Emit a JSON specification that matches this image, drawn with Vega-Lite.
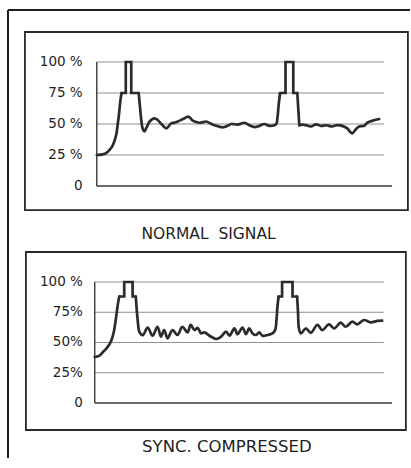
{
  "$schema": "https://vega.github.io/schema/vega-lite/v6.json",
  "width": 411,
  "height": 468,
  "autosize": {"type": "fit", "contains": "padding"},
  "padding": 0,
  "background": "#ffffff",
  "config": {"view": {"stroke": null}, "text": {"font": "DejaVu Sans", "color": "#1e1e1e"}},
  "datasets": {
    "top_box": [{"t": -25, "t2": 108.3, "v": -19.4, "v2": 124.2}],
    "top_frame": [
      {"t": -30.9, "t2": -30.9, "v": -219.4, "v2": 141.9},
      {"t": -30.9, "t2": 109.03, "v": 141.9, "v2": 141.9}
    ],
    "top_grid": [
      {"t": 0, "t2": 100, "v": 25, "v2": 25},
      {"t": 0, "t2": 100, "v": 50, "v2": 50},
      {"t": 0, "t2": 100, "v": 75, "v2": 75},
      {"t": 0, "t2": 100, "v": 100, "v2": 100}
    ],
    "top_axes": [
      {"t": 0, "t2": 0, "v": 0, "v2": 100},
      {"t": 0, "t2": 102.8, "v": 0, "v2": 0}
    ],
    "top_labels": [
      {"t": -4.9, "v": 100, "label": "100 %"},
      {"t": -4.9, "v": 75, "label": "75 %"},
      {"t": -4.9, "v": 50, "label": "50 %"},
      {"t": -4.9, "v": 25, "label": "25 %"},
      {"t": -4.9, "v": 0, "label": "0"}
    ],
    "top_title": [{"t": 38.9, "v": -38.7, "label": "NORMAL \u00a0SIGNAL"}],
    "top_wave": [
      {"seg": "video0", "t": 0, "v": 25}, {"seg": "video0", "t": 2, "v": 25.5}, {"seg": "video0", "t": 3.5, "v": 27},
      {"seg": "video0", "t": 4.6, "v": 29.5}, {"seg": "video0", "t": 5.6, "v": 33}, {"seg": "video0", "t": 6.4, "v": 38},
      {"seg": "video0", "t": 6.9, "v": 43}, {"seg": "video0", "t": 7.3, "v": 50}, {"seg": "video0", "t": 7.7, "v": 57},
      {"seg": "video0", "t": 8.0, "v": 64}, {"seg": "video0", "t": 8.3, "v": 70}, {"seg": "video0", "t": 8.6, "v": 75},
      {"seg": "sync1", "t": 8.6, "v": 75}, {"seg": "sync1", "t": 10.1, "v": 75}, {"seg": "sync1", "t": 10.1, "v": 100},
      {"seg": "sync1", "t": 12.0, "v": 100}, {"seg": "sync1", "t": 12.0, "v": 75}, {"seg": "sync1", "t": 14.6, "v": 75},
      {"seg": "video1", "t": 14.6, "v": 75}, {"seg": "video1", "t": 15.0, "v": 65}, {"seg": "video1", "t": 15.5, "v": 53},
      {"seg": "video1", "t": 16.0, "v": 46}, {"seg": "video1", "t": 16.6, "v": 44}, {"seg": "video1", "t": 17.3, "v": 47},
      {"seg": "video1", "t": 18.4, "v": 52}, {"seg": "video1", "t": 20.1, "v": 54.6}, {"seg": "video1", "t": 21.3, "v": 53},
      {"seg": "video1", "t": 22.5, "v": 50}, {"seg": "video1", "t": 24.2, "v": 46.5}, {"seg": "video1", "t": 25.9, "v": 50.5},
      {"seg": "video1", "t": 27.0, "v": 51}, {"seg": "video1", "t": 28.2, "v": 52}, {"seg": "video1", "t": 30.0, "v": 54},
      {"seg": "video1", "t": 31.7, "v": 55.9}, {"seg": "video1", "t": 32.5, "v": 55}, {"seg": "video1", "t": 33.4, "v": 52.7},
      {"seg": "video1", "t": 35.8, "v": 51}, {"seg": "video1", "t": 38.1, "v": 52}, {"seg": "video1", "t": 39.5, "v": 50.5},
      {"seg": "video1", "t": 41.0, "v": 49}, {"seg": "video1", "t": 43.9, "v": 47.3}, {"seg": "video1", "t": 45.5, "v": 48.5},
      {"seg": "video1", "t": 46.8, "v": 50}, {"seg": "video1", "t": 49.0, "v": 49.5}, {"seg": "video1", "t": 51.4, "v": 51},
      {"seg": "video1", "t": 53.1, "v": 49}, {"seg": "video1", "t": 54.9, "v": 47.5}, {"seg": "video1", "t": 56.6, "v": 48.5},
      {"seg": "video1", "t": 58.3, "v": 50}, {"seg": "video1", "t": 60.1, "v": 48.5}, {"seg": "video1", "t": 61.8, "v": 49},
      {"seg": "video1", "t": 62.5, "v": 50}, {"seg": "video1", "t": 62.9, "v": 55}, {"seg": "video1", "t": 63.3, "v": 65},
      {"seg": "video1", "t": 63.8, "v": 75},
      {"seg": "sync2", "t": 63.8, "v": 75}, {"seg": "sync2", "t": 65.7, "v": 75}, {"seg": "sync2", "t": 65.7, "v": 100},
      {"seg": "sync2", "t": 68.4, "v": 100}, {"seg": "sync2", "t": 68.4, "v": 75}, {"seg": "sync2", "t": 69.8, "v": 75},
      {"seg": "sync2", "t": 70.2, "v": 60}, {"seg": "sync2", "t": 70.5, "v": 49},
      {"seg": "video2", "t": 70.5, "v": 49}, {"seg": "video2", "t": 71.5, "v": 49.5}, {"seg": "video2", "t": 72.9, "v": 49},
      {"seg": "video2", "t": 74.5, "v": 48}, {"seg": "video2", "t": 76.4, "v": 49.7}, {"seg": "video2", "t": 78.0, "v": 48.5},
      {"seg": "video2", "t": 79.9, "v": 49}, {"seg": "video2", "t": 81.9, "v": 48}, {"seg": "video2", "t": 83.5, "v": 49},
      {"seg": "video2", "t": 85.4, "v": 48.5}, {"seg": "video2", "t": 87.2, "v": 46.5}, {"seg": "video2", "t": 88.1, "v": 44},
      {"seg": "video2", "t": 88.9, "v": 42.5}, {"seg": "video2", "t": 90.3, "v": 46}, {"seg": "video2", "t": 91.3, "v": 48},
      {"seg": "video2", "t": 93.1, "v": 48.5}, {"seg": "video2", "t": 94.1, "v": 51}, {"seg": "video2", "t": 95.8, "v": 52.5},
      {"seg": "video2", "t": 98.3, "v": 54}
    ],
    "bot_box": [{"t": -23.8, "t2": 107.6, "v": -22.3, "v2": 124.8}],
    "bot_grid": [
      {"t": 0, "t2": 100, "v": 25, "v2": 25},
      {"t": 0, "t2": 100, "v": 50, "v2": 50},
      {"t": 0, "t2": 100, "v": 75, "v2": 75},
      {"t": 0, "t2": 100, "v": 100, "v2": 100}
    ],
    "bot_axes": [
      {"t": 0, "t2": 0, "v": 0, "v2": 100},
      {"t": 0, "t2": 102.8, "v": 0, "v2": 0}
    ],
    "bot_labels": [
      {"t": -4.1, "v": 100, "label": "100 %"},
      {"t": -4.1, "v": 75, "label": "75%"},
      {"t": -4.1, "v": 50, "label": "50%"},
      {"t": -4.1, "v": 25, "label": "25%"},
      {"t": -4.1, "v": 0, "label": "0"}
    ],
    "bot_title": [{"t": 45.7, "v": -36.1, "label": "SYNC. COMPRESSED"}],
    "bot_wave": [
      {"seg": "video0", "t": 0, "v": 38}, {"seg": "video0", "t": 1.5, "v": 39}, {"seg": "video0", "t": 2.8, "v": 42},
      {"seg": "video0", "t": 4.0, "v": 45}, {"seg": "video0", "t": 5.1, "v": 48.5}, {"seg": "video0", "t": 5.8, "v": 52},
      {"seg": "video0", "t": 6.2, "v": 55}, {"seg": "video0", "t": 6.7, "v": 60}, {"seg": "video0", "t": 7.1, "v": 66},
      {"seg": "video0", "t": 7.5, "v": 73}, {"seg": "video0", "t": 7.9, "v": 80}, {"seg": "video0", "t": 8.3, "v": 86},
      {"seg": "video0", "t": 8.5, "v": 88},
      {"seg": "sync1", "t": 8.5, "v": 88}, {"seg": "sync1", "t": 10.2, "v": 88}, {"seg": "sync1", "t": 10.2, "v": 100},
      {"seg": "sync1", "t": 13.1, "v": 100}, {"seg": "sync1", "t": 13.1, "v": 88}, {"seg": "sync1", "t": 14.2, "v": 88},
      {"seg": "video1", "t": 14.2, "v": 88}, {"seg": "video1", "t": 14.6, "v": 75}, {"seg": "video1", "t": 15.0, "v": 65},
      {"seg": "video1", "t": 15.4, "v": 59}, {"seg": "video1", "t": 16.6, "v": 56}, {"seg": "video1", "t": 18.3, "v": 62.3},
      {"seg": "video1", "t": 20.0, "v": 55.6}, {"seg": "video1", "t": 21.7, "v": 63}, {"seg": "video1", "t": 22.9, "v": 54.8},
      {"seg": "video1", "t": 24.0, "v": 60.3}, {"seg": "video1", "t": 25.2, "v": 53.4}, {"seg": "video1", "t": 26.9, "v": 60.3},
      {"seg": "video1", "t": 28.6, "v": 56.2}, {"seg": "video1", "t": 30.3, "v": 63}, {"seg": "video1", "t": 32.1, "v": 58.4},
      {"seg": "video1", "t": 33.2, "v": 64.5}, {"seg": "video1", "t": 34.5, "v": 60.3}, {"seg": "video1", "t": 35.6, "v": 62},
      {"seg": "video1", "t": 36.8, "v": 57.5}, {"seg": "video1", "t": 37.9, "v": 58.4}, {"seg": "video1", "t": 39.7, "v": 55.6},
      {"seg": "video1", "t": 42.0, "v": 52.9}, {"seg": "video1", "t": 43.7, "v": 54.8}, {"seg": "video1", "t": 45.4, "v": 59},
      {"seg": "video1", "t": 46.6, "v": 55.6}, {"seg": "video1", "t": 48.3, "v": 61.7}, {"seg": "video1", "t": 49.4, "v": 56.8},
      {"seg": "video1", "t": 51.1, "v": 62.3}, {"seg": "video1", "t": 52.3, "v": 56.8}, {"seg": "video1", "t": 53.4, "v": 61.7},
      {"seg": "video1", "t": 54.6, "v": 57.5}, {"seg": "video1", "t": 55.8, "v": 56.2}, {"seg": "video1", "t": 56.9, "v": 58.4},
      {"seg": "video1", "t": 58.0, "v": 55.6}, {"seg": "video1", "t": 59.8, "v": 56.2}, {"seg": "video1", "t": 61.5, "v": 57.5},
      {"seg": "video1", "t": 62.4, "v": 60.3}, {"seg": "video1", "t": 62.9, "v": 70}, {"seg": "video1", "t": 63.2, "v": 80},
      {"seg": "video1", "t": 63.6, "v": 88},
      {"seg": "sync2", "t": 63.6, "v": 88}, {"seg": "sync2", "t": 64.8, "v": 88}, {"seg": "sync2", "t": 64.8, "v": 100},
      {"seg": "sync2", "t": 68.4, "v": 100}, {"seg": "sync2", "t": 68.4, "v": 88}, {"seg": "sync2", "t": 70.0, "v": 88},
      {"seg": "video2", "t": 70.0, "v": 88}, {"seg": "video2", "t": 70.3, "v": 75}, {"seg": "video2", "t": 70.6, "v": 62},
      {"seg": "video2", "t": 71.3, "v": 57.5}, {"seg": "video2", "t": 73.0, "v": 61.7}, {"seg": "video2", "t": 74.7, "v": 57.9},
      {"seg": "video2", "t": 77.0, "v": 64.5}, {"seg": "video2", "t": 78.7, "v": 60.3}, {"seg": "video2", "t": 81.0, "v": 65},
      {"seg": "video2", "t": 82.8, "v": 61.7}, {"seg": "video2", "t": 85.1, "v": 66.4}, {"seg": "video2", "t": 86.8, "v": 63},
      {"seg": "video2", "t": 89.1, "v": 67.2}, {"seg": "video2", "t": 90.8, "v": 65}, {"seg": "video2", "t": 93.1, "v": 68.6},
      {"seg": "video2", "t": 95.4, "v": 66.7}, {"seg": "video2", "t": 97.7, "v": 67.8}, {"seg": "video2", "t": 99.4, "v": 68}
    ]
  },
  "resolve": {"scale": {"x": "independent", "y": "independent"}},
  "layer": [
    {
      "encoding": {
        "x": {"field": "t", "type": "quantitative", "scale": {"domain": [-33.68, 109.03], "nice": false, "zero": false}, "axis": null},
        "y": {"field": "v", "type": "quantitative", "scale": {"domain": [-227.42, 150], "nice": false, "zero": false}, "axis": null}
      },
      "layer": [
        {"data": {"name": "top_frame"}, "mark": {"type": "rule", "stroke": "#1e1e1e", "strokeWidth": 2}, "encoding": {"x2": {"field": "t2"}, "y2": {"field": "v2"}}},
        {"data": {"name": "top_box"}, "mark": {"type": "rect", "fill": "transparent", "stroke": "#2a2a2a", "strokeWidth": 1.8}, "encoding": {"x2": {"field": "t2"}, "y2": {"field": "v2"}}},
        {"data": {"name": "top_grid"}, "mark": {"type": "rule", "stroke": "#8f8f8f", "strokeWidth": 1}, "encoding": {"x2": {"field": "t2"}, "y2": {"field": "v2"}}},
        {"data": {"name": "top_axes"}, "mark": {"type": "rule", "stroke": "#3a3a3a", "strokeWidth": 1.4}, "encoding": {"x2": {"field": "t2"}, "y2": {"field": "v2"}}},
        {"data": {"name": "top_labels"}, "mark": {"type": "text", "align": "right", "baseline": "middle", "fontSize": 13.5}, "encoding": {"text": {"field": "label"}}},
        {"data": {"name": "top_title"}, "mark": {"type": "text", "align": "center", "baseline": "middle", "fontSize": 15.5}, "encoding": {"text": {"field": "label"}}},
        {"data": {"name": "top_wave"}, "transform": [{"filter": {"field": "seg", "oneOf": ["sync1", "sync2"]}}], "mark": {"type": "line", "interpolate": "linear", "stroke": "#2b2b2b", "strokeWidth": 2.7, "strokeJoin": "miter", "strokeCap": "round"}, "encoding": {"detail": {"field": "seg"}, "order": {"value": null}}},
        {"data": {"name": "top_wave"}, "transform": [{"filter": {"not": {"field": "seg", "oneOf": ["sync1", "sync2"]}}}], "mark": {"type": "line", "interpolate": "catmull-rom", "stroke": "#2b2b2b", "strokeWidth": 2.7, "strokeJoin": "round", "strokeCap": "round"}, "encoding": {"detail": {"field": "seg"}, "order": {"value": null}}}
      ]
    },
    {
      "encoding": {
        "x": {"field": "t", "type": "quantitative", "scale": {"domain": [-32.76, 109.03], "nice": false, "zero": false}, "axis": null},
        "y": {"field": "v", "type": "quantitative", "scale": {"domain": [-53.72, 333.06], "nice": false, "zero": false}, "axis": null}
      },
      "layer": [
        {"data": {"name": "bot_box"}, "mark": {"type": "rect", "fill": "transparent", "stroke": "#2a2a2a", "strokeWidth": 1.8}, "encoding": {"x2": {"field": "t2"}, "y2": {"field": "v2"}}},
        {"data": {"name": "bot_grid"}, "mark": {"type": "rule", "stroke": "#8f8f8f", "strokeWidth": 1}, "encoding": {"x2": {"field": "t2"}, "y2": {"field": "v2"}}},
        {"data": {"name": "bot_axes"}, "mark": {"type": "rule", "stroke": "#3a3a3a", "strokeWidth": 1.4}, "encoding": {"x2": {"field": "t2"}, "y2": {"field": "v2"}}},
        {"data": {"name": "bot_labels"}, "mark": {"type": "text", "align": "right", "baseline": "middle", "fontSize": 13.5}, "encoding": {"text": {"field": "label"}}},
        {"data": {"name": "bot_title"}, "mark": {"type": "text", "align": "center", "baseline": "middle", "fontSize": 16.5}, "encoding": {"text": {"field": "label"}}},
        {"data": {"name": "bot_wave"}, "transform": [{"filter": {"field": "seg", "oneOf": ["sync1", "sync2"]}}], "mark": {"type": "line", "interpolate": "linear", "stroke": "#2b2b2b", "strokeWidth": 2.7, "strokeJoin": "miter", "strokeCap": "round"}, "encoding": {"detail": {"field": "seg"}, "order": {"value": null}}},
        {"data": {"name": "bot_wave"}, "transform": [{"filter": {"not": {"field": "seg", "oneOf": ["sync1", "sync2"]}}}], "mark": {"type": "line", "interpolate": "catmull-rom", "stroke": "#2b2b2b", "strokeWidth": 2.7, "strokeJoin": "round", "strokeCap": "round"}, "encoding": {"detail": {"field": "seg"}, "order": {"value": null}}}
      ]
    }
  ]
}
